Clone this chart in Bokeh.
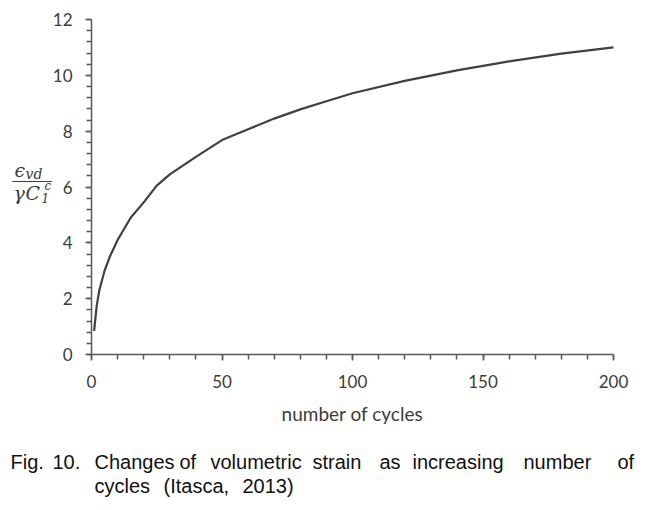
from bokeh.plotting import figure
from bokeh.models import Range1d, FixedTicker, Label
from bokeh.embed import file_html
from bokeh.resources import INLINE

# ---- data ----
cycles = [1, 2, 3, 5, 7, 10, 15, 20, 25, 30, 40, 50, 60, 70, 80, 90, 100,
          120, 140, 160, 180, 200]
strain_ratio = [0.85, 1.75, 2.3, 3.0, 3.5, 4.1, 4.9, 5.45, 6.05, 6.45, 7.08,
                7.68, 8.07, 8.45, 8.78, 9.07, 9.36, 9.8, 10.18, 10.5, 10.78, 11.0]
x_ticks = [0, 50, 100, 150, 200]
y_ticks = [0, 2, 4, 6, 8, 10, 12]
x_title = "number of cycles"
caption_line1 = "Fig. 10. Changes of volumetric strain as increasing number of"
caption_line2 = "cycles (Itasca, 2013)"

# ---- layout constants (pixel positions in the picture) ----
FL, FR, FT, FB = 91, 613, 19, 354   # where the axes box sits
W, H = 642, 508
X0, X1, Y0, Y1 = 0, 200, 0, 12
AXIS_COLOR = "#595959"
TEXT_COLOR = "#3c3c3c"
CAPTION_FONT = "'Liberation Sans'"
MATH_FONT = "'DejaVu Serif'"

# the frame covers the whole canvas; the axes are pinned at 0 with bounds
sx = (X1 - X0) / (FR - FL)
sy = (Y1 - Y0) / (FB - FT)
xr = Range1d(X0 - FL * sx, X0 + (W - FL) * sx)
yr = Range1d(Y0 - (H - FB) * sy, Y0 + FB * sy)

p = figure(width=W, height=H, output_backend="svg", toolbar_location=None,
           x_range=xr, y_range=yr, min_border=0)
p.outline_line_color = None
p.grid.visible = False
p.background_fill_color = "white"

p.line(cycles, strain_ratio, line_color="#404040", line_width=2.2)

p.xaxis.ticker = FixedTicker(ticks=x_ticks, minor_ticks=list(range(0, 201, 10)))
p.yaxis.ticker = FixedTicker(ticks=y_ticks,
                             minor_ticks=[round(0.4 * i, 1) for i in range(31)])
p.xaxis.fixed_location = Y0
p.yaxis.fixed_location = X0
p.xaxis.bounds = (X0, X1)
p.yaxis.bounds = (Y0, Y1)
for ax in (p.xaxis, p.yaxis):
    ax.axis_line_color = AXIS_COLOR
    ax.axis_line_width = 1.5
    ax.major_tick_line_color = AXIS_COLOR
    ax.minor_tick_line_color = AXIS_COLOR
    ax.major_tick_line_width = 1.5
    ax.minor_tick_line_width = 1.5
    ax.major_tick_in = 0
    ax.major_tick_out = 6
    ax.minor_tick_in = 0
    ax.minor_tick_out = 5
    ax.major_label_text_font = "Lato"
    ax.major_label_text_font_size = "17px"
    ax.major_label_text_color = TEXT_COLOR
p.xaxis.major_label_standoff = 14
p.yaxis.major_label_standoff = 13
p.xaxis.axis_label = x_title
p.xaxis.axis_label_text_font = "Lato"
p.xaxis.axis_label_text_font_size = "19px"
p.xaxis.axis_label_text_font_style = "normal"
p.xaxis.axis_label_text_color = TEXT_COLOR
p.xaxis.axis_label_standoff = 11


def img_label(text, ix, iy, size, font, style="normal", baseline="alphabetic",
              color=TEXT_COLOR):
    # convert picture pixel position to data coordinates
    dx = X0 + (ix - FL) * sx
    dy = Y0 + (FB - iy) * sy
    p.add_layout(Label(x=dx, y=dy, text=text,
                       text_font=font, text_font_size=f"{size}px",
                       text_font_style=style, text_baseline=baseline,
                       text_color=color))


# y-axis title as a fraction  eps_vd / (gamma C_1^c)
img_label("\u03f5", 14, 169, 19, MATH_FONT, "italic")
img_label("vd", 25, 173, 14, MATH_FONT, "italic")
img_label("\u2500" * 5, 12, 181, 13, "'DejaVu Sans Mono'", baseline="middle")
img_label("\u03b3", 13, 192, 19, MATH_FONT, "italic")
img_label("C", 25, 192, 19, MATH_FONT, "italic")
img_label("1", 41, 197, 12, MATH_FONT, "italic")
img_label("c", 44, 185, 12, MATH_FONT, "italic")

# caption (justified in the reference: place word by word)
line1_x = [10, 52, 94, 179, 210, 312, 379, 412, 523, 617]
for word, ix in zip(caption_line1.split(), line1_x):
    img_label(word, ix, 461, 20, CAPTION_FONT, color="#111111")
line2_x = [94, 163, 242]
for word, ix in zip(caption_line2.split(), line2_x):
    img_label(word, ix, 485, 20, CAPTION_FONT, color="#111111")

open("out.html", "w").write(file_html(p, INLINE))
